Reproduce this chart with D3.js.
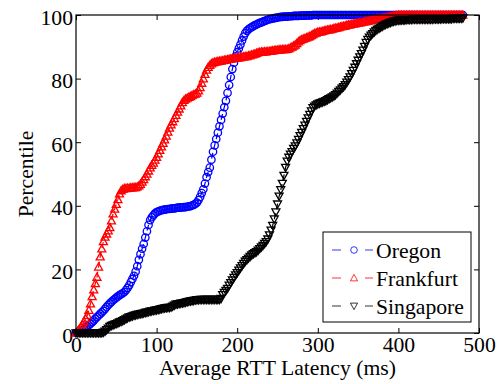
<!DOCTYPE html>
<html lang="en">
  <head>
    <meta charset="utf-8">
    <title>RTT latency CDF</title>
    <script type="text/javascript" src="https://cdn.jsdelivr.net/npm/d3@7"></script>
    <style>
      body { margin: 0; background: #fff; }
    </style>
  </head>
  <body>
    <script type="text/javascript">
      // Sample latencies (ms), one every 2 ms, shared by all three series
      var latency = d3.range(0, 481, 2);

      var seriesNames = ["Oregon", "Frankfurt", "Singapore"];

      // Percentile at each latency sample
      var oregon = [
        0, 0.1, 0.3, 0.5, 0.8, 1.2, 1.7, 2.1, 2.5, 2.9,
        3.4, 3.9, 4.5, 5, 5.5, 6, 6.5, 7, 7.6, 8.2,
        8.8, 9.3, 9.8, 10.3, 10.7, 11.1, 11.5, 11.9, 12.2, 12.5,
        12.9, 13.5, 14.2, 15, 16, 17, 18, 19.3, 21, 23,
        24.8, 26.5, 28, 30, 32, 34, 35.5, 36.4, 37, 37.6,
        38, 38.2, 38.4, 38.6, 38.7, 38.8, 38.9, 39, 39, 39.1,
        39.2, 39.2, 39.3, 39.4, 39.4, 39.5, 39.5, 39.6, 39.6, 39.7,
        39.8, 39.9, 40.1, 40.3, 40.6, 41, 41.8, 42.8, 44, 45.2,
        47, 49, 50.6, 52, 54.5, 57, 59, 61, 63, 65,
        67, 69, 71, 73, 75.5, 78, 80.5, 83, 85, 87,
        88.3, 89.5, 90.7, 92, 93.2, 94.3, 95, 95.5, 95.9, 96.2,
        96.5, 96.8, 97, 97.3, 97.5, 97.7, 97.9, 98.1, 98.3, 98.5,
        98.7, 98.8, 98.9, 99, 99.1, 99.2, 99.3, 99.4, 99.4, 99.5,
        99.5, 99.5, 99.6, 99.6, 99.6, 99.7, 99.7, 99.7, 99.7, 99.8,
        99.8, 99.8, 99.8, 99.9, 99.9, 99.9, 99.9, 100, 100, 100,
        100, 100, 100, 100, 100, 100, 100, 100, 100, 100,
        100, 100, 100, 100, 100, 100, 100, 100, 100, 100,
        100, 100, 100, 100, 100, 100, 100, 100, 100, 100,
        100, 100, 100, 100, 100, 100, 100, 100, 100, 100,
        100, 100, 100, 100, 100, 100, 100, 100, 100, 100,
        100, 100, 100, 100, 100, 100, 100, 100, 100, 100,
        100, 100, 100, 100, 100, 100, 100, 100, 100, 100,
        100, 100, 100, 100, 100, 100, 100, 100, 100, 100,
        100, 100, 100, 100, 100, 100, 100, 100, 100, 100,
        100
      ];

      var frankfurt = [
        0, 0.6, 1.2, 1.9, 2.7, 3.6, 4.5, 5.6, 7.2, 9.2,
        11.5, 13.6, 15.6, 17.6, 20.8, 24, 26.5, 28.8, 30.2, 31.2,
        32.2, 33.2, 35.3, 37.5, 39, 40.5, 42, 43.8, 44.8, 45.2,
        45.5, 45.5, 45.6, 45.6, 45.7, 45.7, 45.8, 45.8, 46, 46.3,
        46.8, 47.5, 48.3, 49.2, 50, 51, 52, 52.8, 53.5, 54.4,
        55.3, 56.4, 57.5, 58.6, 59.7, 60.8, 62, 63.2, 64.5, 65.5,
        66.5, 67.5, 68.5, 69.5, 70.5, 71.5, 72.5, 73.2, 73.6, 73.9,
        74.2, 74.4, 74.7, 75, 75.2, 75.5, 76.2, 77.2, 78.6, 80,
        81.4, 82.7, 83.6, 84.2, 84.7, 85, 85.2, 85.3, 85.4, 85.5,
        85.6, 85.7, 85.8, 85.9, 86, 86.1, 86.2, 86.3, 86.4, 86.5,
        86.5, 86.6, 86.7, 86.8, 86.9, 87, 87, 87.2, 87.3, 87.5,
        87.6, 87.8, 88, 88.2, 88.3, 88.4, 88.4, 88.5, 88.5, 88.6,
        88.6, 88.7, 88.8, 88.9, 89, 89, 89.1, 89.1, 89.2, 89.2,
        89.2, 89.3, 89.4, 89.7, 90, 90.3, 90.6, 91.1, 91.6, 92,
        92.3, 92.5, 92.7, 92.9, 93.1, 93.3, 93.6, 93.9, 94.2, 94.4,
        94.6, 94.7, 94.8, 94.9, 95.1, 95.2, 95.3, 95.4, 95.5, 95.6,
        95.8, 95.9, 96, 96.1, 96.3, 96.4, 96.5, 96.6, 96.8, 96.9,
        97, 97.1, 97.2, 97.3, 97.4, 97.5, 97.6, 97.7, 97.8, 97.9,
        98, 98.1, 98.2, 98.4, 98.5, 98.6, 98.7, 98.8, 98.8, 98.9,
        99, 99.1, 99.2, 99.3, 99.4, 99.5, 99.6, 99.7, 99.8, 99.9,
        100, 100, 100, 100, 100, 100, 100, 100, 100, 100,
        100, 100, 100, 100, 100, 100, 100, 100, 100, 100,
        100, 100, 100, 100, 100, 100, 100, 100, 100, 100,
        100, 100, 100, 100, 100, 100, 100, 100, 100, 100,
        100
      ];

      var singapore = [
        0, 0, 0, 0, 0, 0, 0, 0, 0, 0,
        0, 0, 0, 0, 0, 0, 0, 0.2, 0.5, 1,
        1.5, 2, 2.3, 2.5, 2.7, 2.9, 3.1, 3.4, 3.6, 3.8,
        4.1, 4.4, 4.7, 5, 5.1, 5.3, 5.5, 5.6, 5.8, 5.9,
        6, 6.1, 6.2, 6.4, 6.5, 6.6, 6.8, 6.9, 7, 7.1,
        7.2, 7.3, 7.4, 7.6, 7.7, 7.8, 7.9, 8, 8, 8.1,
        8.4, 8.7, 9, 9.1, 9.2, 9.3, 9.4, 9.5, 9.6, 9.8,
        9.9, 10, 10.1, 10.2, 10.3, 10.4, 10.4, 10.5, 10.5, 10.5,
        10.5, 10.5, 10.5, 10.5, 10.5, 10.5, 10.5, 10.5, 10.5, 10.5,
        10.8, 12, 12.7, 13.3, 14, 15, 15.8, 16.6, 17.4, 18.2,
        18.9, 19.7, 20.4, 21.1, 21.8, 22.5, 23, 23.5, 24, 24.5,
        24.9, 25.2, 25.5, 26, 26.5, 27, 27.5, 28.1, 28.7, 29.5,
        30.8, 32.3, 33.8, 35.8, 38, 40.5, 43, 45, 47, 49.5,
        52, 54, 55.2, 56.2, 57, 58, 58.8, 59.7, 60.8, 62,
        63, 64.2, 65.3, 66.5, 67.6, 68.7, 69.8, 70.8, 71.3, 71.7,
        72, 72.2, 72.4, 72.6, 72.8, 73, 73.3, 73.6, 73.9, 74.2,
        74.5, 74.9, 75.4, 75.9, 76.4, 76.9, 77.4, 78, 78.8, 79.6,
        80.5, 81.5, 82.5, 83.5, 84.6, 85.7, 86.8, 87.8, 88.9, 90.1,
        91.3, 92.3, 93, 93.6, 94.1, 94.6, 95.1, 95.5, 95.8, 96.1,
        96.4, 96.7, 97, 97.2, 97.4, 97.6, 97.8, 98, 98.1, 98.2,
        98.3, 98.3, 98.4, 98.4, 98.4, 98.5, 98.5, 98.5, 98.5, 98.6,
        98.6, 98.6, 98.6, 98.6, 98.6, 98.6, 98.6, 98.6, 98.6, 98.6,
        98.6, 98.6, 98.7, 98.7, 98.7, 98.7, 98.7, 98.8, 98.8, 98.8,
        98.8, 98.8, 98.8, 98.8, 98.9, 98.9, 98.9, 98.9, 98.9, 98.9,
        99
      ];

      var xTicks = [0, 100, 200, 300, 400, 500];
      var yTicks = [0, 20, 40, 60, 80, 100];

      var colors = ["#0000ff", "#ff0000", "#000000"];
      var markers = ["circle", "up", "down"];
      var values = [oregon, frankfurt, singapore];

      var serif = "'Liberation Serif', 'Times New Roman', 'DejaVu Serif', serif";

      // Set plot area
      var margin = {top: 15, right: 22, bottom: 51, left: 76};
      var width = 501 - margin.left - margin.right;
      var height = 384 - margin.top - margin.bottom;

      var svg = d3.select("body").append("svg")
                  .attr("width", 501)
                  .attr("height", 384)
                  .append("g")
                  .attr("transform", "translate(" + margin.left + "," + margin.top + ")");

      var x = d3.scaleLinear().domain([0, 500]).range([0, width]);
      var y = d3.scaleLinear().domain([0, 100]).range([height, 0]);

      // Axis label first, so the font size can be fitted to its width
      var fontSize = 21;
      var xlabel = svg.append("text")
        .attr("x", width / 2)
        .attr("y", height + 42)
        .attr("text-anchor", "middle")
        .style("font-family", serif)
        .style("font-size", fontSize + "px")
        .text("Average RTT Latency (ms)");
      var labelWidth = xlabel.node().getComputedTextLength();
      if (labelWidth > 0) {
        fontSize = Math.min(22, fontSize * 237 / labelWidth);
        xlabel.style("font-size", fontSize + "px");
      }

      // Axes, ticks pointing inward on all four sides
      svg.append("g")
        .attr("transform", "translate(0," + height + ")")
        .call(d3.axisBottom(x).tickValues(xTicks).tickSize(-5).tickPadding(4));
      svg.append("g")
        .call(d3.axisTop(x).tickValues(xTicks).tickSize(-5).tickFormat(""));
      var leftAxis = svg.append("g")
        .call(d3.axisLeft(y).tickValues(yTicks).tickSize(-5).tickPadding(3));
      svg.append("g")
        .attr("transform", "translate(" + width + ",0)")
        .call(d3.axisRight(y).tickValues(yTicks).tickSize(-5).tickFormat(""));

      svg.selectAll(".domain").remove();
      svg.selectAll("g.tick line").attr("stroke", "#000");
      svg.selectAll("g.tick text")
        .style("font-family", serif)
        .style("font-size", fontSize + "px")
        .attr("fill", "#000");
      leftAxis.selectAll(".tick text").attr("dy", "0.42em");

      svg.append("text")
        .attr("transform", "translate(" + (-43) + "," + (height / 2) + ") rotate(-90)")
        .attr("text-anchor", "middle")
        .style("font-family", serif)
        .style("font-size", fontSize + "px")
        .text("Percentile");

      // Curves: dashed line plus a marker at every sample
      var markerPath = function(kind, px, py, s) {
        if (kind == "up") {
          return "M" + px + "," + (py - s) + "L" + (px + s) + "," + (py + s * 0.8) +
                 "L" + (px - s) + "," + (py + s * 0.8) + "Z";
        }
        return "M" + px + "," + (py + s) + "L" + (px + s) + "," + (py - s * 0.8) +
               "L" + (px - s) + "," + (py - s * 0.8) + "Z";
      };

      var line = d3.line()
        .x(function(d) { return x(d[0]); })
        .y(function(d) { return y(d[1]); });

      values.forEach(function(vals, k) {
        var pts = latency.map(function(l, i) { return [l, vals[i]]; });
        var g = svg.append("g");
        g.append("path")
          .attr("d", line(pts))
          .attr("fill", "none")
          .attr("stroke", colors[k])
          .attr("stroke-width", 1.2)
          .attr("stroke-dasharray", "6,4");
        if (markers[k] == "circle") {
          g.selectAll("circle").data(pts).enter().append("circle")
            .attr("cx", function(d) { return x(d[0]); })
            .attr("cy", function(d) { return y(d[1]); })
            .attr("r", 3.7)
            .attr("fill", "none")
            .attr("stroke", colors[k])
            .attr("stroke-width", 1.3);
        } else {
          g.selectAll("path.m").data(pts).enter().append("path")
            .attr("class", "m")
            .attr("d", function(d) { return markerPath(markers[k], x(d[0]), y(d[1]), 4); })
            .attr("fill", "none")
            .attr("stroke", colors[k])
            .attr("stroke-width", 1.3);
        }
      });

      // Box
      svg.append("rect")
        .attr("width", width)
        .attr("height", height)
        .attr("fill", "none")
        .attr("stroke", "#000")
        .attr("stroke-width", 1.2);

      // Legend
      var legend = svg.append("g")
        .attr("transform", "translate(" + (323 - margin.left) + "," + (232 - margin.top) + ")");
      legend.append("rect")
        .attr("width", 148)
        .attr("height", 90)
        .attr("fill", "#fff")
        .attr("stroke", "#000")
        .attr("stroke-width", 1);

      seriesNames.forEach(function(name, k) {
        var ly = 18 + k * 28;
        var row = legend.append("g").attr("transform", "translate(0," + ly + ")");
        row.append("line").attr("x1", 9).attr("x2", 18).attr("y1", 0).attr("y2", 0)
          .attr("stroke", colors[k]).attr("stroke-width", 0.8);
        row.append("line").attr("x1", 42).attr("x2", 50).attr("y1", 0).attr("y2", 0)
          .attr("stroke", colors[k]).attr("stroke-width", 0.8);
        if (markers[k] == "circle") {
          row.append("circle").attr("cx", 31).attr("cy", 0).attr("r", 3.3)
            .attr("fill", "none").attr("stroke", colors[k]).attr("stroke-width", 0.8);
        } else {
          row.append("path").attr("d", markerPath(markers[k], 31, 0, 3.6))
            .attr("fill", "none").attr("stroke", colors[k]).attr("stroke-width", 0.8);
        }
        row.append("text")
          .attr("x", 53)
          .attr("y", 0)
          .attr("dy", "0.35em")
          .style("font-family", serif)
          .style("font-size", fontSize + "px")
          .text(name);
      });
    </script>
  </body>
</html>
